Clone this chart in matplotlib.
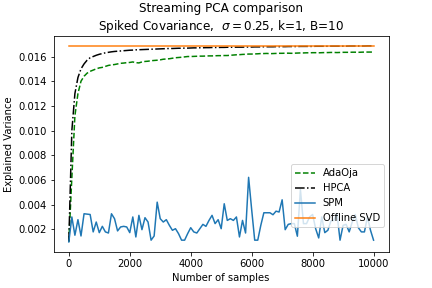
import matplotlib
matplotlib.use('Agg')
import matplotlib.pyplot as plt
import numpy as np

# sample counts where the explained variance was recorded (every 100 samples)
samples = np.arange(0, 10001, 100)

adaoja = [0.00100, 0.00620, 0.01120, 0.01300, 0.01400, 0.01440, 0.01465, 0.01480, 0.01490, 0.01500,
          0.01508, 0.01512, 0.01520, 0.01528, 0.01532, 0.01535, 0.01540, 0.01545, 0.01547, 0.01550,
          0.01552, 0.01556, 0.01550, 0.01548, 0.01556, 0.01560, 0.01562, 0.01566, 0.01568, 0.01570,
          0.01573, 0.01578, 0.01580, 0.01582, 0.01586, 0.01590, 0.01592, 0.01594, 0.01597, 0.01600,
          0.01600, 0.01601, 0.01602, 0.01603, 0.01603, 0.01604, 0.01605, 0.01605, 0.01606, 0.01607,
          0.01607, 0.01608, 0.01608, 0.01610, 0.01612, 0.01614, 0.01615, 0.01617, 0.01618, 0.01620,
          0.01620, 0.01621, 0.01622, 0.01624, 0.01624, 0.01625, 0.01623, 0.01624, 0.01625, 0.01626,
          0.01626, 0.01627, 0.01627, 0.01626, 0.01627, 0.01628, 0.01629, 0.01629, 0.01630, 0.01630,
          0.01631, 0.01631, 0.01630, 0.01631, 0.01632, 0.01632, 0.01633, 0.01633, 0.01632, 0.01633,
          0.01634, 0.01634, 0.01634, 0.01635, 0.01635, 0.01634, 0.01635, 0.01636, 0.01636, 0.01636,
          0.01636]

hpca = [0.00100, 0.01000, 0.01300, 0.01430, 0.01500, 0.01540, 0.01570, 0.01590, 0.01600, 0.01610,
        0.01618, 0.01624, 0.01630, 0.01634, 0.01638, 0.01641, 0.01643, 0.01645, 0.01647, 0.01649,
        0.01651, 0.01652, 0.01654, 0.01655, 0.01656, 0.01657, 0.01658, 0.01659, 0.01660, 0.01661,
        0.01662, 0.01663, 0.01664, 0.01665, 0.01665, 0.01666, 0.01667, 0.01667, 0.01668, 0.01668,
        0.01669, 0.01670, 0.01670, 0.01671, 0.01671, 0.01672, 0.01672, 0.01673, 0.01673, 0.01673,
        0.01674, 0.01674, 0.01675, 0.01675, 0.01675, 0.01676, 0.01676, 0.01676, 0.01677, 0.01677,
        0.01677, 0.01678, 0.01678, 0.01678, 0.01679, 0.01679, 0.01679, 0.01679, 0.01680, 0.01680,
        0.01680, 0.01680, 0.01681, 0.01681, 0.01681, 0.01681, 0.01682, 0.01682, 0.01682, 0.01682,
        0.01682, 0.01683, 0.01683, 0.01683, 0.01683, 0.01683, 0.01684, 0.01684, 0.01684, 0.01684,
        0.01684, 0.01684, 0.01685, 0.01685, 0.01685, 0.01685, 0.01685, 0.01685, 0.01686, 0.01686,
        0.01686]

spm = [0.00098, 0.00300, 0.00152, 0.00278, 0.00146, 0.00326, 0.00323, 0.00320, 0.00179, 0.00259,
       0.00173, 0.00224, 0.00179, 0.00170, 0.00326, 0.00286, 0.00187, 0.00219, 0.00224, 0.00219,
       0.00173, 0.00300, 0.00138, 0.00313, 0.00197, 0.00294, 0.00259, 0.00112, 0.00146, 0.00420,
       0.00286, 0.00259, 0.00278, 0.00232, 0.00192, 0.00205, 0.00165, 0.00112, 0.00112, 0.00165,
       0.00213, 0.00179, 0.00170, 0.00205, 0.00240, 0.00224, 0.00272, 0.00313, 0.00246, 0.00278,
       0.00205, 0.00407, 0.00272, 0.00286, 0.00272, 0.00300, 0.00138, 0.00272, 0.00170, 0.00621,
       0.00360, 0.00112, 0.00112, 0.00232, 0.00334, 0.00334, 0.00334, 0.00318, 0.00347, 0.00340,
       0.00439, 0.00197, 0.00240, 0.00246, 0.00246, 0.00144, 0.00522, 0.00246, 0.00246, 0.00300,
       0.00320, 0.00205, 0.00130, 0.00300, 0.00173, 0.00192, 0.00267, 0.00272, 0.00326, 0.00112,
       0.00232, 0.00240, 0.00179, 0.00259, 0.00320, 0.00213, 0.00179, 0.00179, 0.00300, 0.00192,
       0.00112]

offline_svd = 0.01689

fig, ax = plt.subplots(figsize=(6, 4), dpi=72)
fig.subplots_adjust(left=0.124, right=0.9, top=0.876, bottom=0.126)

ax.plot(samples, adaoja, 'g--', label='AdaOja')
ax.plot(samples, hpca, 'k-.', label='HPCA')
ax.plot(samples, spm, color='C0', label='SPM')
ax.plot(samples, np.full(len(samples), offline_svd), color='C1', label='Offline SVD')

ax.set_title('Streaming PCA comparison\nSpiked Covariance,  $\\sigma=0.25$, k=1, B=10')
ax.set_xlabel('Number of samples')
ax.set_ylabel('Explained Variance')
ax.legend(loc='center right', bbox_to_anchor=(1.0, 0.26))

plt.savefig('out.png', dpi=72)
